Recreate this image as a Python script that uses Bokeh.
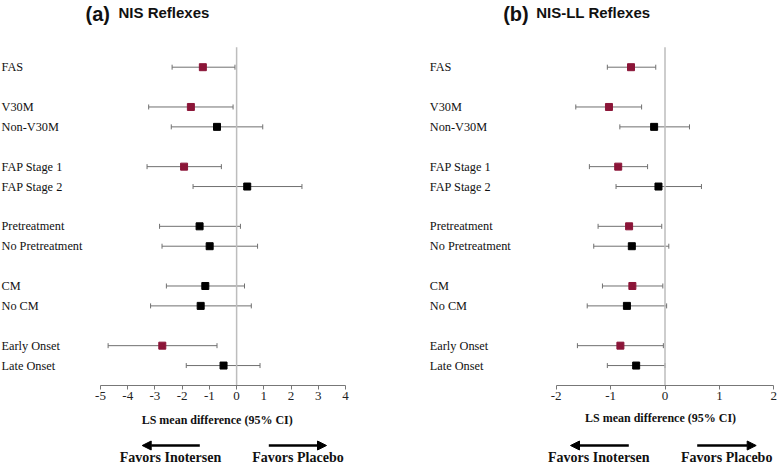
from bokeh.plotting import figure
from bokeh.models import (Range1d, FixedTicker, ColumnDataSource, Whisker, TeeHead,
                          Arrow, NormalHead)
from bokeh.layouts import row
from bokeh.embed import file_html
from bokeh.resources import INLINE
from bokeh.core.properties import value

# ---------------- data ----------------
categories = ["FAS", "V30M", "Non-V30M", "FAP Stage 1", "FAP Stage 2", "Pretreatment",
              "No Pretreatment", "CM", "No CM", "Early Onset", "Late Onset"]
groups = [1, 2, 2, 2, 2, 2]  # rows per group (FAS, genotype, stage, pretreatment, CM, onset)

nis_mean = [-1.24, -1.68, -0.72, -1.93, 0.39, -1.36, -0.99, -1.15, -1.32, -2.73, -0.48]
nis_low = [-2.37, -3.23, -2.40, -3.29, -1.60, -2.83, -2.74, -2.58, -3.16, -4.72, -1.85]
nis_high = [-0.06, -0.13, 0.96, -0.56, 2.40, 0.14, 0.77, 0.29, 0.54, -0.72, 0.86]
nis_sig = [True, True, False, True, False, False, False, False, False, True, False]

ll_mean = [-0.625, -1.03, -0.20, -0.86, -0.12, -0.66, -0.61, -0.60, -0.70, -0.82, -0.53]
ll_low = [-1.06, -1.64, -0.83, -1.39, -0.90, -1.23, -1.31, -1.15, -1.43, -1.61, -1.06]
ll_high = [-0.17, -0.43, 0.45, -0.32, 0.67, -0.06, 0.07, -0.04, 0.03, -0.03, 0.00]
ll_sig = [True, True, False, True, False, True, False, True, False, True, False]

nis_ticks = [-5, -4, -3, -2, -1, 0, 1, 2, 3, 4]
nis_tick_labels = ["-5", "-4", "-3", "-2", "-1", "0", "1", "2", "3", "4"]
ll_ticks = [-2, -1, 0, 1, 2]
ll_tick_labels = ["-2", "-1", "0", "1", "2"]

x_title = "LS mean difference (95% CI)"
favors = ["Favors Inotersen", "Favors Placebo"]

# row slots: a blank slot between groups
slots = []
s = 0
for g in groups:
    for _ in range(g):
        slots.append(s)
        s += 1
    s += 1
axis_slot = slots[-1] + 1

RED = "#8B1538"
SERIF = "Liberation Serif"
SANS = "Liberation Sans"

# ---------------- layout geometry (pixels) ----------------
ROW0_Y = 66.7
ROW_STEP = 19.89
FIG_H = 465


def slot_of(py):
    return (py - ROW0_Y) / ROW_STEP


def make_panel(fig_left, fig_w, t0, t0_px, t1, t1_px, ticks, tick_labels,
               means, lows, highs, sig, label_px, tag, tag_px, name, name_px,
               arrows_px, favors_px, xlabel_px):
    unit = (t1_px - t0_px) / (t1 - t0)

    def xv(px):
        return t0 + (px - t0_px) / unit

    x_range = Range1d(xv(fig_left), xv(fig_left + fig_w))
    y_range = Range1d(slot_of(FIG_H), slot_of(0))

    p = figure(width=fig_w, height=FIG_H, x_range=x_range, y_range=y_range,
               output_backend="svg", toolbar_location=None, y_axis_location=None,
               min_border=0)
    p.outline_line_color = None
    p.xgrid.visible = False
    p.ygrid.visible = False

    ax = p.xaxis[0]
    ax.fixed_location = axis_slot
    ax.ticker = FixedTicker(ticks=ticks)
    ax.major_label_overrides = {t: l for t, l in zip(ticks, tick_labels)}
    ax.bounds = (ticks[0], ticks[-1])
    ax.axis_line_color = "#777777"
    ax.major_tick_line_color = "#777777"
    ax.minor_tick_line_color = None
    ax.major_tick_in = 0
    ax.major_tick_out = 4
    ax.major_label_standoff = 3
    ax.major_label_text_font = SERIF
    ax.major_label_text_font_size = "13px"
    ax.major_label_text_color = "#222222"

    # reference line at zero
    p.segment(x0=[0], y0=[slots[0] - 1], x1=[0], y1=[axis_slot],
              line_color="#bdbdbd", line_width=1.5)

    src = ColumnDataSource(dict(
        y=slots, mean=means, low=lows, high=highs,
        color=[RED if s_ else "#000000" for s_ in sig]))
    w = Whisker(source=src, base="y", lower="low", upper="high", dimension="width",
                line_color="#707070", line_width=1,
                lower_head=TeeHead(size=5, line_color="#707070", line_width=1),
                upper_head=TeeHead(size=5, line_color="#707070", line_width=1))
    p.add_layout(w)
    p.scatter(x="mean", y="y", source=src, marker="square", size=7,
              fill_color="color", line_color="color")

    # category labels
    p.text(x=[xv(label_px)] * len(categories), y=slots, text=categories,
           text_font=value(SERIF), text_font_size="12.3px", text_color="#111111",
           text_align="left", text_baseline="middle")

    # titles
    p.text(x=[xv(tag_px)], y=[slot_of(13.5)], text=[tag], text_font=value(SANS),
           text_font_style="bold", text_font_size="20px", text_color="#111111",
           text_align="left", text_baseline="middle")
    p.text(x=[xv(name_px)], y=[slot_of(11.5)], text=[name], text_font=value(SANS),
           text_font_style="bold", text_font_size="15px", text_color="#111111",
           text_align="left", text_baseline="middle")

    # axis title
    p.text(x=[xv(xlabel_px[0])], y=[slot_of(xlabel_px[1])], text=[x_title],
           text_font=value(SERIF), text_font_style="bold", text_font_size="12px",
           text_color="#111111", text_align="center", text_baseline="middle")

    # arrows
    ay = slot_of(445)
    (ltip, ltail), (rtail, rtip) = arrows_px
    for xs, xe in [(ltail, ltip), (rtail, rtip)]:
        p.add_layout(Arrow(x_start=xv(xs), y_start=ay, x_end=xv(xe), y_end=ay,
                           line_color="#000000", line_width=2.5,
                           end=NormalHead(size=9, fill_color="#000000",
                                          line_color="#000000", line_width=1)))

    p.text(x=[xv(c) for c in favors_px], y=[slot_of(456.5)] * 2, text=favors,
           text_font=value(SERIF), text_font_style="bold", text_font_size="14px",
           text_color="#111111", text_align="center", text_baseline="middle")
    return p


pa = make_panel(0, 390, -5, 100, 4, 345, nis_ticks, nis_tick_labels,
                nis_mean, nis_low, nis_high, nis_sig, 1,
                "(a)", 85, "NIS Reflexes", 118,
                [(141.7, 199.3), (268.3, 326)], [170, 297.5], (216.7, 419.3))
pb = make_panel(390, 387, -2, 555.7, 2, 773.3, ll_ticks, ll_tick_labels,
                ll_mean, ll_low, ll_high, ll_sig, 429.3,
                "(b)", 502.7, "NIS-LL Reflexes", 535.7,
                [(570, 628.3), (696.7, 755.7)], [598.3, 726.2], (660, 417.7))

layout = row(pa, pb, spacing=0)
open("out.html", "w").write(file_html(layout, INLINE))
